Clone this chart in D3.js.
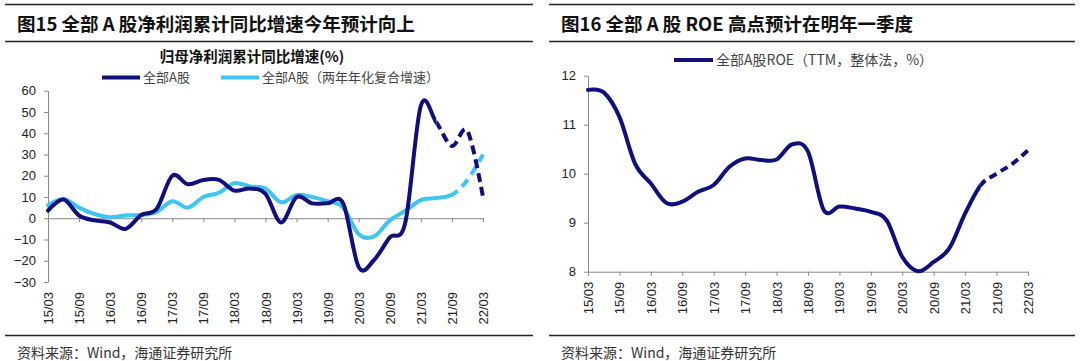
<!DOCTYPE html>
<html>
<head>
<meta charset="utf-8">
<script src="https://cdn.jsdelivr.net/npm/d3@7/dist/d3.min.js"></script>
<style>
  body { margin: 0; background: #fff; }
  svg text { font-family: "Liberation Sans", Arial, sans-serif; }
  .cjk { font-family: "Noto Sans CJK SC", "Liberation Sans", sans-serif; }
</style>
</head>
<body>
<svg id="chart" width="1080" height="361"></svg>
<script>
// quarterly report periods (yy/mm)
const quarters = ["15/03","15/06","15/09","15/12","16/03","16/06","16/09","16/12",
                  "17/03","17/06","17/09","17/12","18/03","18/06","18/09","18/12",
                  "19/03","19/06","19/09","19/12","20/03","20/06","20/09","20/12",
                  "21/03","21/06","21/09","21/12","22/03"]
const tickLabels = ["15/03","15/09","16/03","16/09","17/03","17/09","18/03","18/09",
                    "19/03","19/09","20/03","20/09","21/03","21/09","22/03"]

// 全部A股 归母净利润累计同比 (%)
const profitYoY = [3.6, 8.8, 1.3, -1, -2, -5, 1.5, 4.5,
                   20, 16, 18, 18, 13, 14, 11.5, -2,
                   10, 7, 7, 7, -23, -19.5, -9, -2,
                   53, 45, 34, 41, 10]
// 两年年化复合增速 (%)
const profitCagr = [6, 9, 5, 2, 0.5, 1.3, 1.5, 3,
                    8, 5, 10, 12, 16.5, 15, 14, 7.5,
                    11, 10, 8, 5, -7.5, -8.5, -1, 3.5,
                    8.5, 9.5, 11, 18, 30]
// 全部A股 ROE (TTM, 整体法, %)
const roeTTM = [11.71, 11.66, 11.16, 10.2, 9.8, 9.4, 9.43, 9.63,
                9.77, 10.14, 10.31, 10.28, 10.29, 10.6, 10.45, 9.26,
                9.33, 9.29, 9.22, 9.05, 8.3, 8.01, 8.2, 8.48,
                9.19, 9.77, 10.0, 10.2, 10.48]

const profitTicks = [-30, -20, -10, 0, 10, 20, 30, 40, 50, 60]
const roeTicks = [8, 9, 10, 11, 12]

const navy = "#0f0f7d"
const sky = "#40c4f0"

const svg = d3.select("#chart")
const defs = svg.append("defs")

function panelFrame(x0, x1, title) {
    svg.append("line").attr("x1", x0).attr("x2", x1).attr("y1", 4.5).attr("y2", 4.5)
        .attr("stroke", "#222").attr("stroke-width", 1.5)
    svg.append("line").attr("x1", x0).attr("x2", x1).attr("y1", 41.5).attr("y2", 41.5)
        .attr("stroke", "#222").attr("stroke-width", 1.5)
    svg.append("line").attr("x1", x0).attr("x2", x1).attr("y1", 335.5).attr("y2", 335.5)
        .attr("stroke", "#222").attr("stroke-width", 1.5)
    svg.append("text").attr("class", "cjk")
        .attr("x", x0 + 12).attr("y", 31)
        .attr("font-size", 18.5).attr("font-weight", "bold").attr("fill", "#111")
        .text(title)
    svg.append("text").attr("class", "cjk")
        .attr("x", x0 + 12).attr("y", 358)
        .attr("font-size", 14).attr("fill", "#333")
        .text("资料来源：Wind，海通证券研究所")
}

function styleAxis(g) {
    g.selectAll(".domain").attr("stroke", "#8a8a8a")
    g.selectAll(".tick line").attr("stroke", "#8a8a8a")
    g.selectAll(".tick text").attr("font-size", 13).attr("fill", "#222")
        .attr("font-family", "Liberation Sans, Arial, sans-serif")
}

function xLabels(x, yPos) {
    let g = svg.append("g")
        .attr("transform", `translate(0,${yPos})`)
        .call(d3.axisBottom(x).tickValues(tickLabels).tickSize(0))
    g.select(".domain").remove()
    g.selectAll(".tick text")
        .attr("transform", "rotate(-90)")
        .attr("x", -10).attr("y", 0).attr("dy", "0.35em")
        .style("text-anchor", "end")
    styleAxis(g)
}

// length along the path where x first reaches xSplit
function lengthAtX(node, xSplit) {
    let lo = 0, hi = node.getTotalLength()
    for (let k = 0; k < 40; k++) {
        let mid = (lo + hi) / 2
        if (node.getPointAtLength(mid).x < xSplit) lo = mid
        else hi = mid
    }
    return lo
}

function series(values, x, y, color, splitAt, dash, id) {
    let line = d3.line()
        .x((d, i) => x(quarters[i]))
        .y(d => y(d))
        .curve(d3.curveCatmullRom.alpha(0))
    let xs = x(splitAt)
    defs.append("clipPath").attr("id", id + "-a")
        .append("rect").attr("x", 0).attr("y", 0).attr("width", xs).attr("height", 361)
    defs.append("clipPath").attr("id", id + "-b")
        .append("rect").attr("x", xs).attr("y", 0).attr("width", 1080 - xs).attr("height", 361)

    svg.append("path").datum(values)
        .attr("d", line)
        .attr("fill", "none").attr("stroke", color).attr("stroke-width", 4)
        .attr("stroke-linejoin", "round").attr("stroke-linecap", "round")
        .attr("clip-path", `url(#${id}-a)`)
    let dashed = svg.append("path").datum(values)
        .attr("d", line)
        .attr("fill", "none").attr("stroke", color).attr("stroke-width", 4)
        .attr("stroke-dasharray", dash.join(" "))
        .attr("clip-path", `url(#${id}-b)`)
    let L = lengthAtX(dashed.node(), xs)
    dashed.attr("stroke-dashoffset", -L + dash[0] * 0.3)
}

// ---------- left: 图15 ----------
panelFrame(5, 533, "图15 全部 A 股净利润累计同比增速今年预计向上")

let xL = d3.scalePoint().domain(quarters).range([48, 483])
let yL = d3.scaleLinear().domain([-30, 60]).range([282, 90.7])

svg.append("text").attr("class", "cjk")
    .attr("x", 252).attr("y", 62).attr("text-anchor", "middle")
    .attr("font-size", 14.5).attr("font-weight", "bold").attr("fill", "#111")
    .text("归母净利润累计同比增速(%)")

let legendL = [
    {label: "全部A股", color: navy, x: 102},
    {label: "全部A股（两年年化复合增速）", color: sky, x: 221}
]
legendL.forEach(d => {
    svg.append("line").attr("x1", d.x).attr("x2", d.x + 38).attr("y1", 77.5).attr("y2", 77.5)
        .attr("stroke", d.color).attr("stroke-width", 4)
    svg.append("text").attr("class", "cjk")
        .attr("x", d.x + 41).attr("y", 82)
        .attr("font-size", 13).attr("fill", "#444")
        .text(d.label)
})

let gyL = svg.append("g").attr("transform", "translate(48,0)")
    .call(d3.axisLeft(yL).tickValues(profitTicks).tickSize(4).tickSizeOuter(0).tickPadding(8))
styleAxis(gyL)

let gxL = svg.append("g").attr("transform", `translate(0,${yL(0)})`)
    .call(d3.axisBottom(xL).tickValues(tickLabels).tickSize(4).tickSizeOuter(0).tickFormat(""))
styleAxis(gxL)
xLabels(xL, 282)

series(profitCagr, xL, yL, sky, "21/09", [9, 6], "cagr")
series(profitYoY, xL, yL, navy, "21/06", [9, 5], "yoy")

// ---------- right: 图16 ----------
panelFrame(549, 1075, "图16 全部 A 股 ROE 高点预计在明年一季度")

let xR = d3.scalePoint().domain(quarters).range([588, 1028])
let yR = d3.scaleLinear().domain([8, 12]).range([271.7, 75.7])

svg.append("line").attr("x1", 674).attr("x2", 713).attr("y1", 60).attr("y2", 60)
    .attr("stroke", navy).attr("stroke-width", 4)
svg.append("text").attr("class", "cjk")
    .attr("x", 716).attr("y", 65)
    .attr("font-size", 14).attr("fill", "#444")
    .text("全部A股ROE（TTM，整体法，%）")

let gyR = svg.append("g").attr("transform", "translate(588,0)")
    .call(d3.axisLeft(yR).tickValues(roeTicks).tickSize(4).tickSizeOuter(0).tickPadding(8)
        .tickFormat(d3.format("d")))
styleAxis(gyR)

let gxR = svg.append("g").attr("transform", `translate(0,${yR(8)})`)
    .call(d3.axisBottom(xR).tickValues(tickLabels).tickSize(4).tickSizeOuter(0).tickFormat(""))
styleAxis(gxR)
xLabels(xR, 271.7)

series(roeTTM, xR, yR, navy, "21/06", [8, 5], "roe")
</script>
</body>
</html>
